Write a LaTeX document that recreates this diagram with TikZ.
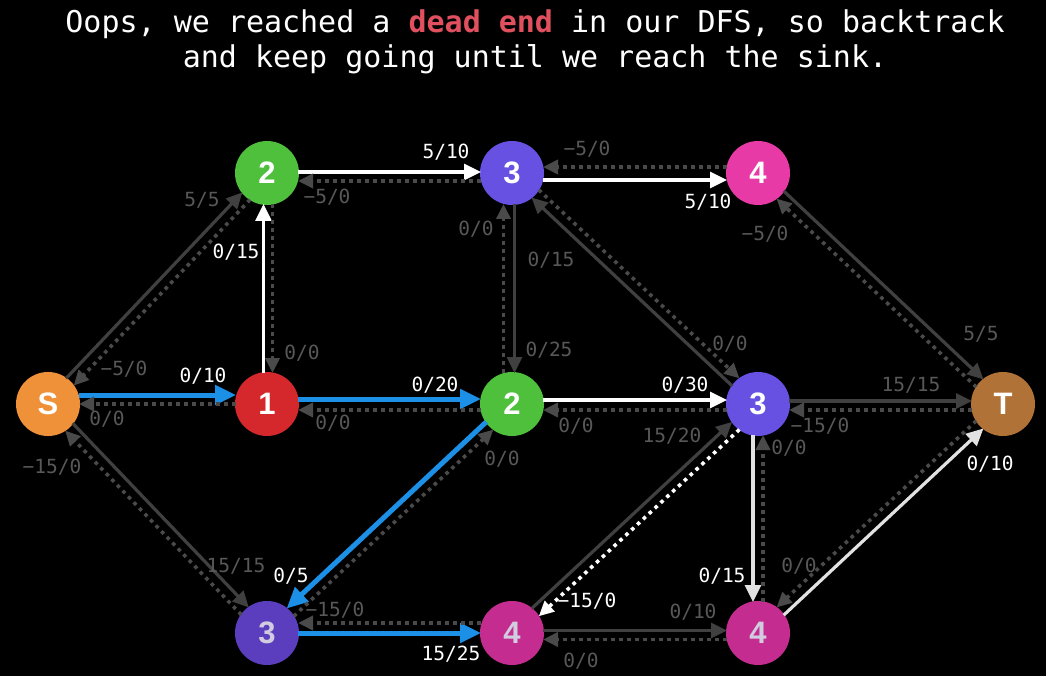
\documentclass[tikz,border=0pt]{standalone}
\usepackage{fontspec}
\setmonofont{DejaVu Sans Mono}
\newfontfamily\vertfont{Liberation Sans}
\usetikzlibrary{calc,arrows.meta,positioning}

\definecolor{srcorange}{HTML}{EF9139}
\definecolor{onered}{HTML}{D4282C}
\definecolor{twogreen}{HTML}{4EC03C}
\definecolor{threeblue}{HTML}{6751E2}
\definecolor{threedark}{HTML}{5A3EBE}
\definecolor{fourpink}{HTML}{E73AA6}
\definecolor{fourdark}{HTML}{C42D8F}
\definecolor{sinkbrown}{HTML}{B07236}
\definecolor{augblue}{HTML}{1C8FE6}
\definecolor{edgegrey}{HTML}{404040}
\definecolor{resgrey}{HTML}{4A4A4A}
\definecolor{lblgrey}{HTML}{585858}
\definecolor{offwhite}{HTML}{E2E2E2}
\definecolor{fadetext}{HTML}{D2CCE0}
\definecolor{deadred}{HTML}{E0505F}

\begin{document}
\begin{tikzpicture}[x=1pt,y=-1pt,
    vert/.style={circle,minimum size=64pt,inner sep=0pt,text=white,font=\vertfont\bfseries\fontsize{31}{31}\selectfont},
    lbl/.style={inner sep=0pt,font=\ttfamily\fontsize{19.5}{20}\selectfont,text=lblgrey},
    hot/.style={lbl,text=white},
    lane/.style={to path={($(\tikztostart)!#1!90:(\tikztotarget)$) -- ($(\tikztotarget)!#1!-90:(\tikztostart)$)}},
    cut/.style={shorten <=31pt,shorten >=31pt},
    flow/.style={cut,line width=3.2pt,draw=edgegrey,-{Triangle[length=16pt,width=15pt]}},
    used/.style={flow,draw=white,-{Triangle[length=17pt,width=16pt]}},
    aug/.style={cut,line width=5pt,draw=augblue,-{Triangle[length=21pt,width=19pt]}},
    res/.style={cut,line width=3.6pt,draw=resgrey,dash pattern=on 3.6pt off 4.4pt,-{Triangle[length=15pt,width=14pt]}},
    retrace/.style={res,draw=white}]
        \useasboundingbox (0,0) rectangle (1046,676);
        \fill[black] (0,0) rectangle (1046,676);

        \node[anchor=base,text=white,font=\ttfamily\fontsize{30}{35}\selectfont] (title1) at (535,33)
            {Oops, we reached a \textcolor{deadred}{\bfseries dead end} in our DFS, so backtrack};
        \node[anchor=base,text=white,font=\ttfamily\fontsize{30}{35}\selectfont] (title2) at (535,68)
            {and keep going until we reach the sink.};

        % vertices
        \node[vert,fill=srcorange] (S) at (48,404) {S};
        \node[vert,fill=onered] (n1) at (267,404) {1};
        \node[vert,fill=twogreen] (n2a) at (267,173) {2};
        \node[vert,fill=threeblue] (n3a) at (512,173) {3};
        \node[vert,fill=fourpink] (n4a) at (758,173) {4};
        \node[vert,fill=twogreen] (n2b) at (512,404) {2};
        \node[vert,fill=threeblue] (n3b) at (758,404) {3};
        \node[vert,fill=sinkbrown] (T) at (1003,404) {T};
        \node[vert,fill=threedark,text=fadetext] (n3c) at (267,633) {3};
        \node[vert,fill=fourdark,text=fadetext] (n4c) at (512,633) {4};
        \node[vert,fill=fourdark,text=fadetext] (n4d) at (758,633) {4};

        % edges and residual edges
        \draw[aug,lane=9pt] (S) to (n1);
        \draw[res,lane=0pt] (n1) to (S);
        \draw[flow,lane=4.5pt] (S) to (n2a);
        \draw[res,lane=6pt] (n2a) to (S);
        \draw[flow,lane=4.5pt] (S) to (n3c);
        \draw[res,lane=6pt] (n3c) to (S);
        \draw[used,lane=3.5pt] (n1) to (n2a);
        \draw[res,lane=5.5pt] (n2a) to (n1);
        \draw[aug,lane=5pt] (n1) to (n2b);
        \draw[res,lane=6pt] (n2b) to (n1);
        \draw[used,lane=1pt] (n2a) to (n3a);
        \draw[res,lane=8pt] (n3a) to (n2a);
        \draw[used,lane=-7pt] (n3a) to (n4a);
        \draw[res,lane=-6pt] (n4a) to (n3a);
        \draw[flow,lane=2.5pt] (n3a) to (n2b);
        \draw[res,lane=8.5pt] (n2b) to (n3a);
        \draw[flow,lane=4.5pt] (n3b) to (n3a);
        \draw[res,lane=6pt] (n3a) to (n3b);
        \draw[flow,lane=4.5pt] (n4a) to (T);
        \draw[res,lane=6pt] (T) to (n4a);
        \draw[used,lane=4pt] (n2b) to (n3b);
        \draw[res,lane=6pt] (n3b) to (n2b);
        \draw[flow,lane=3pt] (n3b) to (T);
        \draw[res,lane=6pt] (T) to (n3b);
        \draw[aug,lane=-4.5pt] (n2b) to (n3c);
        \draw[res,lane=-6pt] (n3c) to (n2b);
        \draw[aug,lane=0pt] (n3c) to (n4c);
        \draw[res,lane=-10pt] (n4c) to (n3c);
        \draw[flow,lane=4.5pt] (n4c) to (n3b);
        \draw[retrace,lane=6pt] (n3b) to (n4c);
        \draw[used,draw=offwhite,lane=-5pt] (n3b) to (n4d);
        \draw[res,lane=-5pt] (n4d) to (n3b);
        \draw[flow,lane=2.5pt] (n4c) to (n4d);
        \draw[res,lane=6.5pt] (n4d) to (n4c);
        \draw[used,draw=offwhite,lane=-4.5pt] (n4d) to (T);
        \draw[res,lane=-6pt] (T) to (n4d);

        % capacities
        \node[hot] (cS1) at (203,376) {0/10};
        \node[lbl] (r1S) at (107,419) {0/0};
        \node[lbl] (cS2) at (202,200) {5/5};
        \node[lbl] (r2S) at (124,369) {−5/0};
        \node[lbl] (cS3) at (236,566) {15/15};
        \node[lbl] (r3S) at (52,467) {−15/0};
        \node[hot] (c12a) at (236,252) {0/15};
        \node[lbl] (r2a1) at (302,353) {0/0};
        \node[hot] (c12b) at (435,385) {0/20};
        \node[lbl] (r2b1) at (333,423) {0/0};
        \node[hot] (c23a) at (446,152) {5/10};
        \node[lbl] (r3a2) at (327,197) {−5/0};
        \node[hot] (c34a) at (708,202) {5/10};
        \node[lbl] (r4a3) at (587,149) {−5/0};
        \node[lbl] (r2b3) at (476,229) {0/0};
        \node[lbl] (c3a2) at (549,350) {0/25};
        \node[lbl] (c3b3) at (551,260) {0/15};
        \node[lbl] (r3a3) at (730,344) {0/0};
        \node[lbl] (c4aT) at (981,334) {5/5};
        \node[lbl] (rT4a) at (765,234) {−5/0};
        \node[hot] (c23b) at (685,385) {0/30};
        \node[lbl] (r3b2) at (576,426) {0/0};
        \node[lbl] (c3bT) at (911,385) {15/15};
        \node[lbl] (rT3b) at (820,426) {−15/0};
        \node[hot] (c2b3) at (291,576) {0/5};
        \node[lbl] (r3c2) at (502,459) {0/0};
        \node[hot] (c34c) at (451,654) {15/25};
        \node[lbl] (r4c3) at (335,610) {−15/0};
        \node[lbl] (c4c3) at (672,436) {15/20};
        \node[hot] (r3b4) at (587,601) {−15/0};
        \node[hot] (c3b4) at (722,576) {0/15};
        \node[lbl] (r4d3) at (789,448) {0/0};
        \node[lbl] (c44) at (693,612) {0/10};
        \node[lbl] (r44) at (581,661) {0/0};
        \node[hot] (c4dT) at (990,464) {0/10};
        \node[lbl] (rT4d) at (799,566) {0/0};
\end{tikzpicture}
\end{document}
